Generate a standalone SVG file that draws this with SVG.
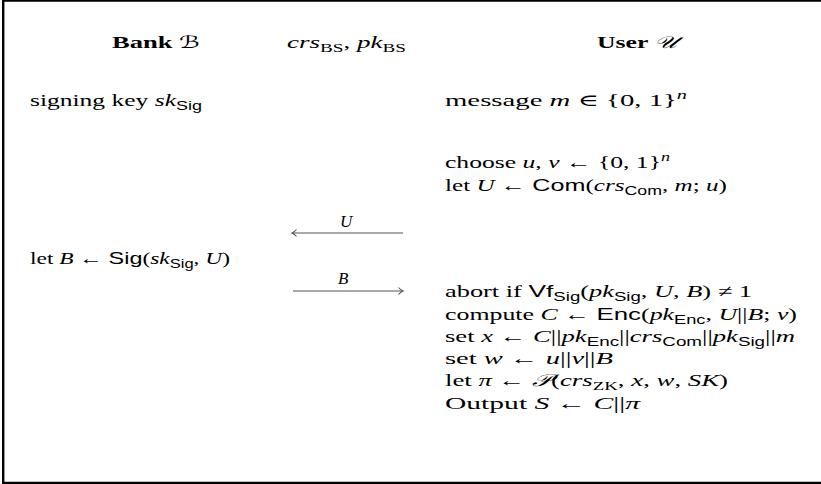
<svg xmlns="http://www.w3.org/2000/svg" width="821" height="484" viewBox="0 0 821 484">
<style>
text{font-family:"Liberation Serif","DejaVu Serif",serif;font-size:17px;fill:#000}
.b{font-weight:bold}
.i{font-style:italic}
.s{font-family:"Liberation Sans","DejaVu Sans",sans-serif}
.sub{font-size:12px}
.cal{font-family:"DejaVu Sans","Noto Sans","DejaVu Serif",serif;font-style:italic}
.arr{stroke:#555;stroke-width:1.1;fill:none}
</style>
<rect x="0" y="0" width="821" height="484" fill="#fff"/>
<path d="M830,0.6 H3.2 V483 H830" fill="none" stroke="#000" stroke-width="2.4"/>
<g id="bank-header"><text x="112" y="48" textLength="88" lengthAdjust="spacingAndGlyphs"><tspan class="b">Bank </tspan><tspan class="cal">ℬ</tspan></text></g>
<g id="params"><text x="287" y="48" textLength="119" lengthAdjust="spacingAndGlyphs"><tspan class="i">crs</tspan><tspan class="sub" dy="4">BS</tspan><tspan dy="-4">, </tspan><tspan class="i">pk</tspan><tspan class="sub" dy="4">BS</tspan></text></g>
<g id="user-header"><text x="597" y="48" textLength="80" lengthAdjust="spacingAndGlyphs"><tspan class="b">User </tspan><tspan class="cal">𝒰</tspan></text></g>
<g id="bank">
<text x="30" y="106" textLength="172" lengthAdjust="spacingAndGlyphs">signing key <tspan class="i">sk</tspan><tspan class="s sub" dy="4">Sig</tspan></text>
<text x="30" y="264" textLength="200" lengthAdjust="spacingAndGlyphs">let <tspan class="i">B</tspan> ← <tspan class="s">Sig</tspan>(<tspan class="i">sk</tspan><tspan class="s sub" dy="4">Sig</tspan><tspan dy="-4">, </tspan><tspan class="i">U</tspan>)</text>
</g>
<g id="user">
<text x="445" y="106" textLength="242" lengthAdjust="spacingAndGlyphs">message <tspan class="i">m</tspan> ∈ {0, 1}<tspan class="i sub" dy="-7">n</tspan></text>
<text x="445" y="168" textLength="225" lengthAdjust="spacingAndGlyphs">choose <tspan class="i">u</tspan>, <tspan class="i">v</tspan> ← {0, 1}<tspan class="i sub" dy="-7">n</tspan></text>
<text x="445" y="191" textLength="282" lengthAdjust="spacingAndGlyphs">let <tspan class="i">U</tspan> ← <tspan class="s">Com</tspan>(<tspan class="i">crs</tspan><tspan class="s sub" dy="4">Com</tspan><tspan dy="-4">, </tspan><tspan class="i">m</tspan>; <tspan class="i">u</tspan>)</text>
<text x="445" y="297" textLength="307" lengthAdjust="spacingAndGlyphs">abort if <tspan class="s">Vf</tspan><tspan class="s sub" dy="4">Sig</tspan><tspan dy="-4">(</tspan><tspan class="i">pk</tspan><tspan class="s sub" dy="4">Sig</tspan><tspan dy="-4">, </tspan><tspan class="i">U</tspan>, <tspan class="i">B</tspan>) ≠ 1</text>
<text x="445" y="320" textLength="352" lengthAdjust="spacingAndGlyphs">compute <tspan class="i">C</tspan> ← <tspan class="s">Enc</tspan>(<tspan class="i">pk</tspan><tspan class="s sub" dy="4">Enc</tspan><tspan dy="-4">, </tspan><tspan class="i">U</tspan>||<tspan class="i">B</tspan>; <tspan class="i">v</tspan>)</text>
<text x="445" y="342" textLength="350" lengthAdjust="spacingAndGlyphs">set <tspan class="i">x</tspan> ← <tspan class="i">C</tspan>||<tspan class="i">pk</tspan><tspan class="s sub" dy="4">Enc</tspan><tspan dy="-4">||</tspan><tspan class="i">crs</tspan><tspan class="s sub" dy="4">Com</tspan><tspan dy="-4">||</tspan><tspan class="i">pk</tspan><tspan class="s sub" dy="4">Sig</tspan><tspan dy="-4">||</tspan><tspan class="i">m</tspan></text>
<text x="445" y="364" textLength="168" lengthAdjust="spacingAndGlyphs">set <tspan class="i">w</tspan> ← <tspan class="i">u</tspan>||<tspan class="i">v</tspan>||<tspan class="i">B</tspan></text>
<text x="445" y="386" textLength="283" lengthAdjust="spacingAndGlyphs">let <tspan class="i">π</tspan> ← <tspan class="cal">𝒫</tspan>(<tspan class="i">crs</tspan><tspan class="sub" dy="4">ZK</tspan><tspan dy="-4">, </tspan><tspan class="i">x</tspan>, <tspan class="i">w</tspan>, <tspan class="i">SK</tspan>)</text>
<text x="445" y="409" textLength="195" lengthAdjust="spacingAndGlyphs">Output <tspan class="i">S</tspan> ← <tspan class="i">C</tspan>||<tspan class="i">π</tspan></text>
</g>
<g id="connectors">
<g id="msg-U">
<line class="arr" x1="292" y1="233" x2="403" y2="233"/>
<path class="arr" d="M296.5,229.5 Q294,232.3 292,233 Q294,233.7 296.5,236.5"/>
<text class="i" x="340" y="227">U</text>
</g>
<g id="msg-B">
<line class="arr" x1="293" y1="291" x2="403" y2="291"/>
<path class="arr" d="M398.5,287.5 Q401,290.3 403,291 Q401,291.7 398.5,294.5"/>
<text class="i" x="338" y="284">B</text>
</g>
</g>
</svg>
